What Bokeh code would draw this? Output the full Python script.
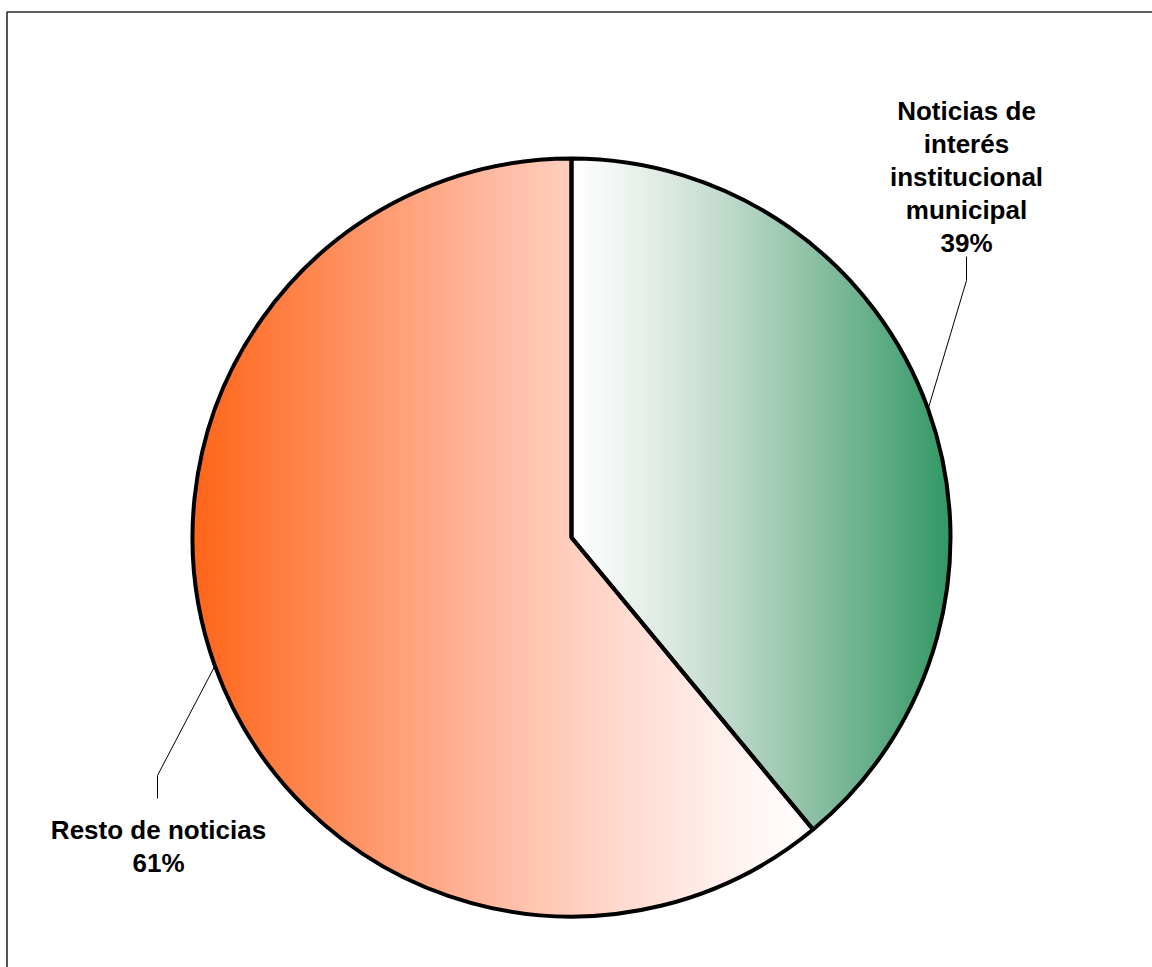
import numpy as np
from bokeh.plotting import figure
from bokeh.models import Range1d, ColumnDataSource
from bokeh.embed import file_html
from bokeh.resources import INLINE
from bokeh.core.properties import value

# --- data -------------------------------------------------------------
categories = ["Noticias de interés institucional municipal", "Resto de noticias"]
shares = [39, 61]
pct_labels = ["39%", "61%"]
label_lines = [
    ["Noticias de", "interés", "institucional", "municipal"],
    ["Resto de noticias"],
]
# gradient end colours per slice: (colour at left edge, colour at right edge)
slice_gradients = [
    ((255, 255, 255), (51, 152, 101)),
    ((255, 102, 25), (255, 255, 255)),
]

# --- layout (pixels) ---------------------------------------------------
W, H = 1152, 967
CX, CY, R = 571, 537, 379          # pie centre and radius on the canvas
FONT = "Liberation Sans"


def px(x):
    return (x - CX) / R


def py(y):
    return (CY - y) / R


p = figure(width=W, height=H, output_backend="svg", toolbar_location=None,
           x_range=Range1d(px(0), px(W)), y_range=Range1d(py(H), py(0)),
           x_axis_type=None, y_axis_type=None, min_border=0)
p.grid.visible = False
p.outline_line_color = None
p.background_fill_color = "white"
p.border_fill_color = "white"

# slice angles, clockwise from 12 o'clock
total = float(sum(shares))
cum = np.concatenate([[0.0], np.cumsum(shares) / total])
start_cw = cum[:-1] * 2 * np.pi
end_cw = cum[1:] * 2 * np.pi


def to_lin(c):
    c = np.asarray(c, dtype=float) / 255.0
    return np.where(c <= 0.04045, c / 12.92, ((c + 0.055) / 1.055) ** 2.4)


def from_lin(c):
    c = np.clip(c, 0, 1)
    return np.where(c <= 0.0031308, c * 12.92, 1.055 * c ** (1 / 2.4) - 0.055) * 255


def blend(c0, c1, t, ch):
    """sRGB blend that eases into a linear-light blend near the white end."""
    plain = c0[ch] * (1 - t) + c1[ch] * t
    l0, l1 = to_lin(c0[ch]), to_lin(c1[ch])
    light = from_lin(l0 * (1 - t) + l1 * t)
    w = t if sum(c1) >= sum(c0) else 1 - t
    return np.round((1 - w) * plain + w * light).astype(np.uint8)


# --- gradient fill as an RGBA raster over [-1, 1]^2 ---------------------
N = 760
h = 1.0 / N
xs = np.linspace(-1 + h, 1 - h, N)
X, Y = np.meshgrid(xs, xs)               # row 0 = bottom
theta = np.mod(np.arctan2(X, Y), 2 * np.pi)
inside = X ** 2 + Y ** 2 <= (1.0 + 1.0 / R) ** 2

img = np.zeros((N, N), dtype=np.uint32)
view = img.view(dtype=np.uint8).reshape((N, N, 4))

for i in range(len(shares)):
    a0, a1 = start_cw[i], end_cw[i]
    sel = inside & (theta >= a0) & (theta < a1)
    # horizontal extent of this slice (rim arc plus centre)
    arc = np.linspace(a0, a1, 721)
    xe = np.concatenate([np.sin(arc), [0.0]])
    xmin, xmax = xe.min(), xe.max()
    t = np.clip((X - xmin) / (xmax - xmin), 0, 1)
    c0, c1 = slice_gradients[i]
    for ch in range(3):
        view[..., ch][sel] = blend(c0, c1, t, ch)[sel]
    view[..., 3][sel] = 255

p.image_rgba(image=[img], x=-1, y=-1, dw=2, dh=2)

# slice outlines
bokeh_start = np.pi / 2 - start_cw
bokeh_end = np.pi / 2 - end_cw
wedges = ColumnDataSource(dict(start=bokeh_start, end=bokeh_end, name=categories))
p.wedge(x=0, y=0, radius=1, start_angle="start", end_angle="end",
        direction="clock", source=wedges, fill_alpha=0,
        line_color="black", line_width=4)

# --- labels and leader lines -------------------------------------------
label_x = [966, 158]                  # label centres
first_baseline = [110, 829]
line_step = 33
leader_elbow = [(966, 280, 256), (157, 775, 798)]

for i in range(len(shares)):
    lines = label_lines[i] + [pct_labels[i]]
    ys = [py(first_baseline[i] + k * line_step) for k in range(len(lines))]
    p.text(x=[px(label_x[i])] * len(lines), y=ys, text=lines,
           text_font=value(FONT), text_font_style="bold",
           text_font_size="26px", text_color="black",
           text_align="center", text_baseline="alphabetic")

    mid = (start_cw[i] + end_cw[i]) / 2
    ex, ey0, ey1 = leader_elbow[i]
    p.line(x=[np.sin(mid), px(ex), px(ex)],
           y=[np.cos(mid), py(ey0), py(ey1)],
           line_color="black", line_width=1)

# chart area border (top and left edges)
p.line(x=[px(6.5), px(6.5), px(W + 10)], y=[py(H + 10), py(11.5), py(11.5)],
       line_color="#2a2a2a", line_width=1.6)

open("out.html", "w").write(file_html(p, INLINE))
